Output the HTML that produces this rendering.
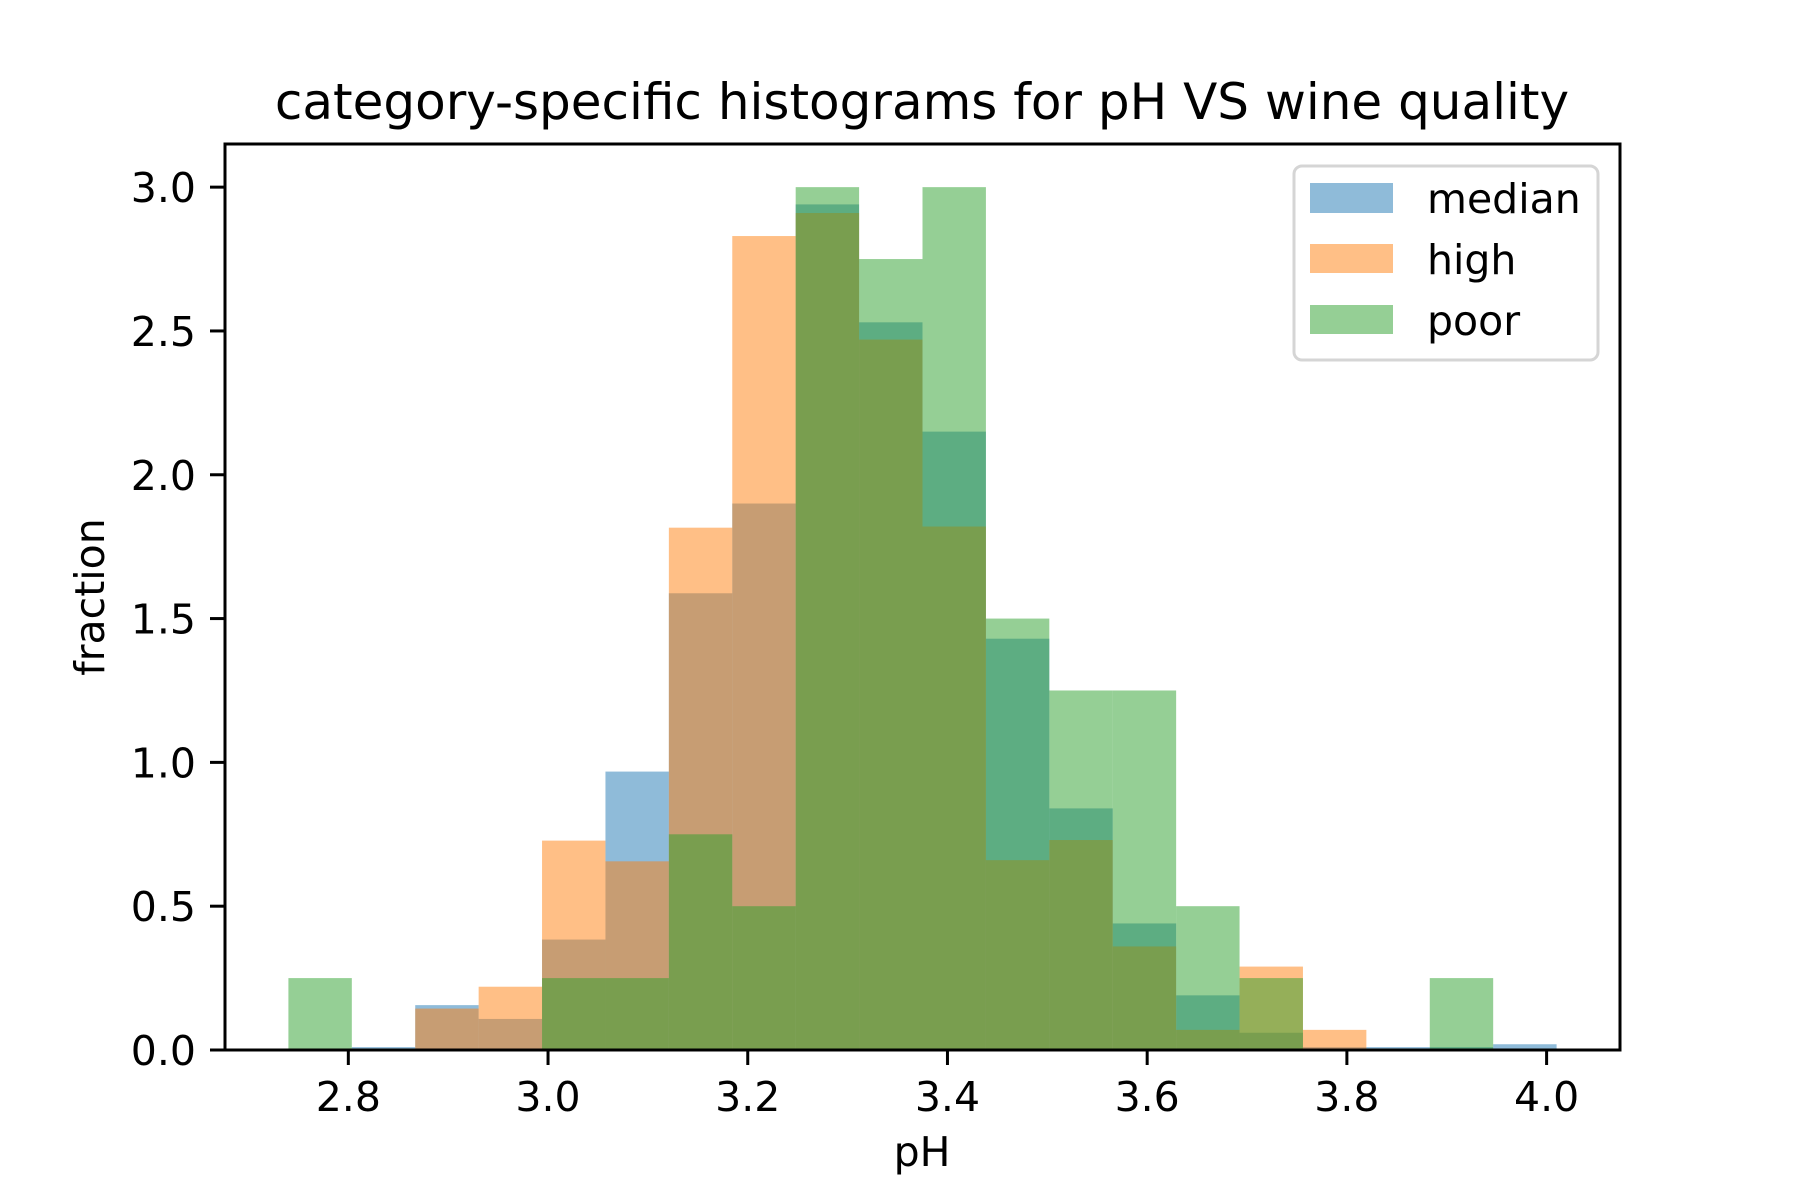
<!DOCTYPE html>
<html><head><meta charset="utf-8"><style>
html,body{margin:0;padding:0;background:#fff;}
svg{display:block;font-family:"DejaVu Sans","Liberation Sans",sans-serif;}
</style></head><body>
<svg id="chart" width="1800" height="1200" viewBox="0 0 1800 1200" xmlns="http://www.w3.org/2000/svg">
<rect width="1800" height="1200" fill="#fff"/>
<text x="922" y="119" font-size="50" text-anchor="middle">category-specific histograms for pH VS wine quality</text>
<g id="bars"></g>
<rect x="225" y="144" width="1395" height="906" fill="none" stroke="#000" stroke-width="3"/>
<g id="xticks"></g>
<g id="yticks"></g>
<text x="922" y="1166" font-size="41" text-anchor="middle">pH</text>
<text transform="translate(104,597) rotate(-90)" font-size="41" text-anchor="middle">fraction</text>
<g>
<rect x="1294" y="166" width="304" height="194" rx="8" fill="#fff" fill-opacity="0.8" stroke="#d5d5d5" stroke-width="3"/>
<rect x="1310" y="183" width="83" height="30" fill="#1f77b4" fill-opacity="0.5"/>
<text x="1427" y="213" font-size="41">median</text>
<rect x="1310" y="244" width="83" height="29" fill="#ff7f0e" fill-opacity="0.5"/>
<text x="1427" y="274" font-size="41">high</text>
<rect x="1310" y="305" width="83" height="29" fill="#2ca02c" fill-opacity="0.5"/>
<text x="1427" y="335" font-size="41">poor</text>
</g>
</svg>
<script>
const binStart = 2.74;
const binWidth = 0.0635;
const median = [0, 0.01, 0.156, 0.108, 0.384, 0.968, 1.588, 1.9, 2.94, 2.53, 2.15, 1.43, 0.84, 0.44, 0.19, 0.06, 0.01, 0.01, 0.01, 0.02];
const high = [0, 0, 0.144, 0.22, 0.728, 0.656, 1.816, 2.83, 2.91, 2.47, 1.82, 0.66, 0.73, 0.36, 0.07, 0.29, 0.07, 0, 0, 0];
const poor = [0.25, 0, 0, 0, 0.25, 0.25, 0.75, 0.5, 3.0, 2.75, 3.0, 1.5, 1.25, 1.25, 0.5, 0.25, 0, 0, 0.25, 0];
const xTicks = [2.8, 3.0, 3.2, 3.4, 3.6, 3.8, 4.0];
const yTicks = [0, 0.5, 1.0, 1.5, 2.0, 2.5, 3.0];

const NS = 'http://www.w3.org/2000/svg';
const X0 = 225, X1 = 1620, Y0 = 1050, Y1 = 144;
const nb = median.length;
const xmin0 = binStart, xmax0 = binStart + nb * binWidth;
const xpad = (xmax0 - xmin0) * 0.05;
const xlo = xmin0 - xpad, xhi = xmax0 + xpad;
const ymax = Math.max(...median, ...high, ...poor) * 1.05;
function xs(v){ return X0 + (v - xlo) / (xhi - xlo) * (X1 - X0); }
function ys(v){ return Y0 - v / ymax * (Y0 - Y1); }

const bars = document.getElementById('bars');
const series = [['median', median, '#1f77b4'], ['high', high, '#ff7f0e'], ['poor', poor, '#2ca02c']];
series.forEach(([name, vals, color]) => {
  vals.forEach((v, i) => {
    if (v <= 0) return;
    const r = document.createElementNS(NS, 'rect');
    const a = xs(binStart + i * binWidth), b = xs(binStart + (i + 1) * binWidth);
    r.setAttribute('x', a);
    r.setAttribute('width', b - a);
    r.setAttribute('y', ys(v));
    r.setAttribute('height', Y0 - ys(v));
    r.setAttribute('fill', color);
    r.setAttribute('fill-opacity', '0.5');
    
    
    bars.appendChild(r);
  });
});

const xg = document.getElementById('xticks');
xTicks.forEach(t => {
  const x = xs(t);
  const l = document.createElementNS(NS, 'line');
  l.setAttribute('x1', x); l.setAttribute('x2', x);
  l.setAttribute('y1', Y0); l.setAttribute('y2', Y0 + 15);
  l.setAttribute('stroke', '#000'); l.setAttribute('stroke-width', '3');
  
  
  xg.appendChild(l);
  const tx = document.createElementNS(NS, 'text');
  tx.setAttribute('x', x); tx.setAttribute('y', 1111);
  tx.setAttribute('font-size', '41'); tx.setAttribute('text-anchor', 'middle');
  tx.textContent = t.toFixed(1);
  
  
  xg.appendChild(tx);
});
const yg = document.getElementById('yticks');
yTicks.forEach(t => {
  const y = ys(t);
  const l = document.createElementNS(NS, 'line');
  l.setAttribute('x1', X0 - 15); l.setAttribute('x2', X0);
  l.setAttribute('y1', y); l.setAttribute('y2', y);
  l.setAttribute('stroke', '#000'); l.setAttribute('stroke-width', '3');
  
  
  yg.appendChild(l);
  const tx = document.createElementNS(NS, 'text');
  tx.setAttribute('x', 196); tx.setAttribute('y', y + 15);
  tx.setAttribute('font-size', '41'); tx.setAttribute('text-anchor', 'end');
  tx.textContent = t.toFixed(1);
  
  
  yg.appendChild(tx);
});
</script>
</body></html>
